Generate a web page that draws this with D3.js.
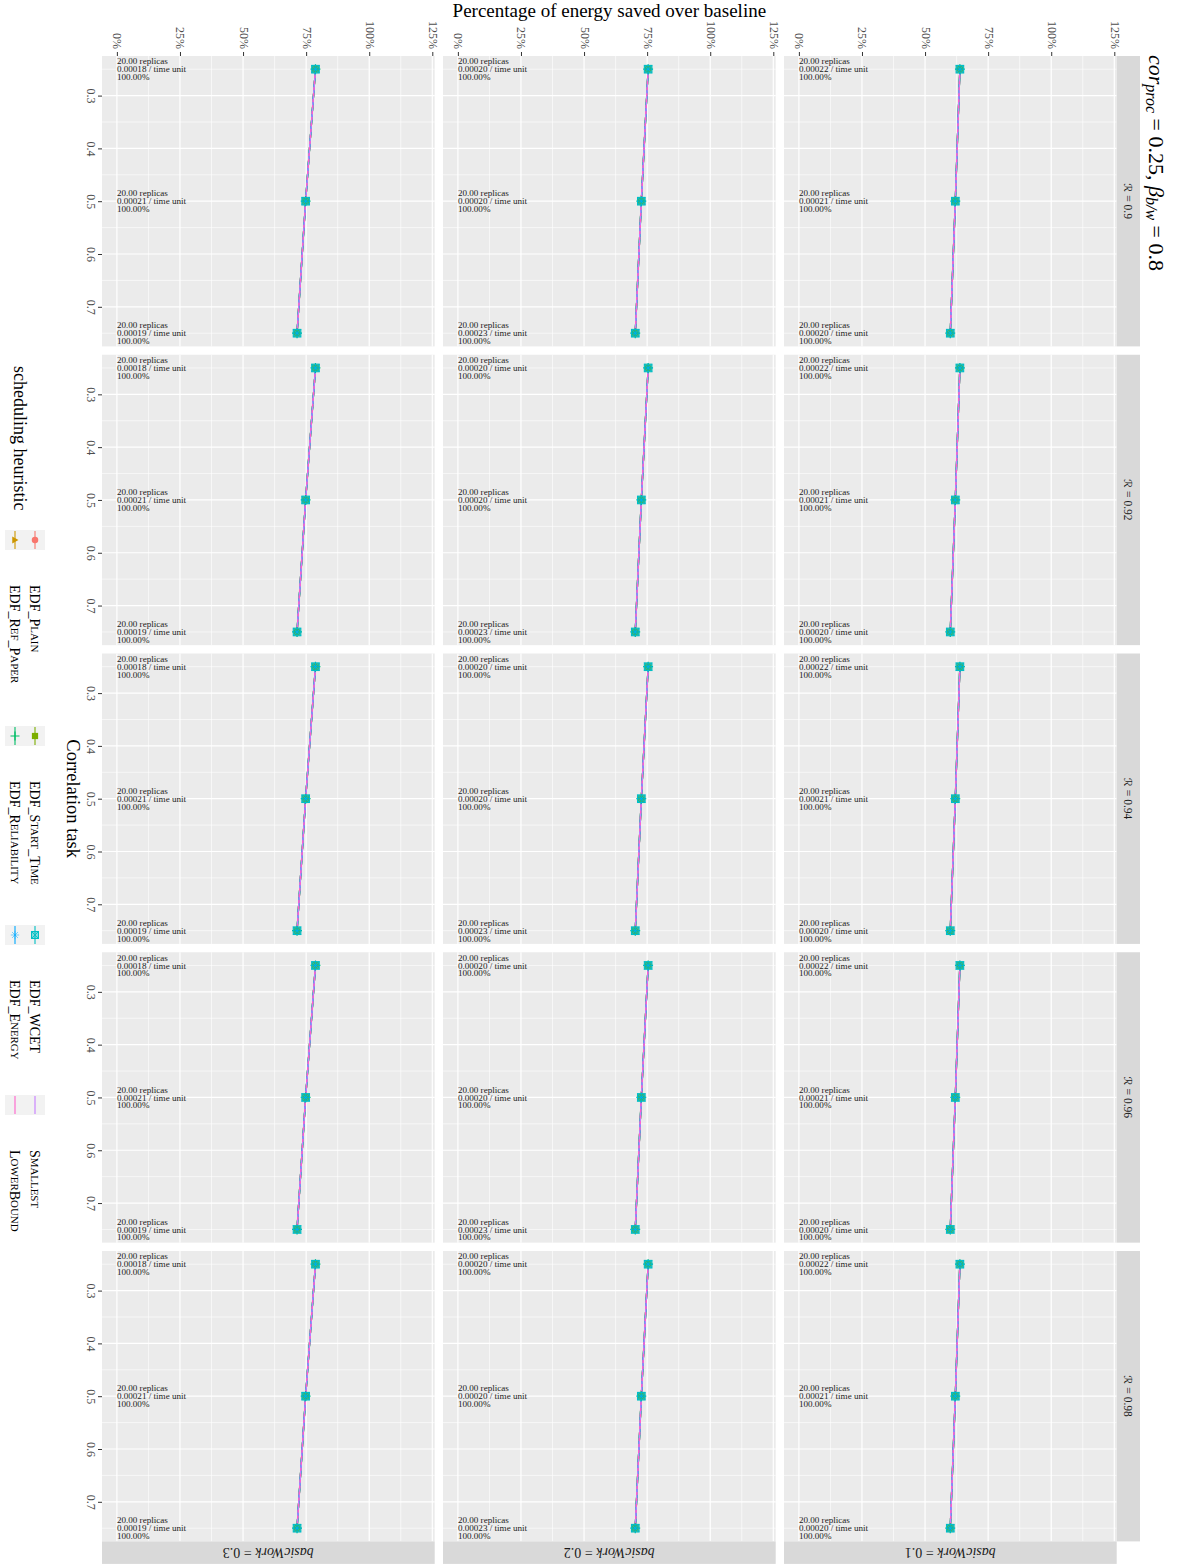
<!DOCTYPE html>
<html><head><meta charset="utf-8">
<script src="https://cdn.jsdelivr.net/npm/d3@7"></script>
<style>
body{margin:0;background:#fff;}
text{font-family:'Liberation Serif','DejaVu Serif',serif;}
</style>
</head><body>
<svg id="chart" width="1189" height="1567"></svg>
<script>
// ---------------- data ----------------
const correlation = [0.25, 0.5, 0.75];
const rLabels = ["0.9", "0.92", "0.94", "0.96", "0.98"];
const basicWorkLabels = ["0.3", "0.2", "0.1"];
const savingBW03 = [78.7, 74.8, 71.4];
const savingBW02 = [75.4, 72.7, 70.3];
const savingBW01 = [63.8, 62.0, 60.0];
const rateBW03 = ["0.00018", "0.00021", "0.00019"];
const rateBW02 = ["0.00020", "0.00020", "0.00023"];
const rateBW01 = ["0.00022", "0.00021", "0.00020"];
const replicaCounts = ["20.00", "20.00", "20.00"];
const successPct = ["100.00%", "100.00%", "100.00%"];
const heuristics = ["EDF_Plain", "EDF_Ref_Paper", "EDF_Start_Time", "EDF_Reliability", "EDF_WCET", "EDF_Energy", "Smallest", "LowerBound"];
const heurColors = ["#F8766D", "#CD9600", "#7CAE00", "#00BE67", "#00BFC4", "#00A9FF", "#C77CFF", "#FF61CC"];
const heurShapes = ["circle", "triangle", "square", "plus", "squarecross", "asterisk", null, null];
const pctTicks = [0, 25, 50, 75, 100, 125];
const pctMinor = [12.5, 37.5, 62.5, 87.5, 112.5];
const corTicks = [0.3, 0.4, 0.5, 0.6, 0.7];
const corMinor = [0.25, 0.35, 0.45, 0.55, 0.65, 0.75];

const savingsByCol = [savingBW03, savingBW02, savingBW01];
const ratesByCol = [rateBW03, rateBW02, rateBW01];

// ---------------- layout ----------------
const svg = d3.select("#chart");
const colX0 = 102, colW = 332.7, colGap = 8.3;
const rowY0 = 56, rowH = 290.4, rowGap = 8.35;
const panelBg = "#EBEBEB", stripBg = "#D9D9D9";

function shape(g, type, cx, cy, color, s) {
  s = s || 1;
  const h = 3.3 * s;
  if (type === "circle") {
    g.append("circle").attr("cx", cx).attr("cy", cy).attr("r", 3.1 * s).attr("fill", color);
  } else if (type === "triangle") {
    g.append("path").attr("d", `M${cx + h},${cy} L${cx - h * 0.8},${cy - h} L${cx - h * 0.8},${cy + h} Z`).attr("fill", color);
  } else if (type === "square") {
    g.append("rect").attr("x", cx - h * 0.9).attr("y", cy - h * 0.9).attr("width", h * 1.8).attr("height", h * 1.8).attr("fill", color);
  } else if (type === "plus") {
    g.append("path").attr("d", `M${cx - h * 1.3},${cy} H${cx + h * 1.3} M${cx},${cy - h * 1.3} V${cy + h * 1.3}`).attr("stroke", color).attr("stroke-width", 1.2).attr("fill", "none");
  } else if (type === "squarecross") {
    g.append("rect").attr("x", cx - h).attr("y", cy - h).attr("width", h * 2).attr("height", h * 2).attr("fill", color).attr("fill-opacity", 0.45).attr("stroke", color).attr("stroke-width", 1.1);
    g.append("path").attr("d", `M${cx - h},${cy - h} L${cx + h},${cy + h} M${cx - h},${cy + h} L${cx + h},${cy - h}`).attr("stroke", color).attr("stroke-width", 0.9);
  } else if (type === "asterisk") {
    const a = h * 1.2, b = h * 0.85;
    g.append("path").attr("d", `M${cx - a},${cy} H${cx + a} M${cx},${cy - a} V${cy + a} M${cx - b},${cy - b} L${cx + b},${cy + b} M${cx - b},${cy + b} L${cx + b},${cy - b}`).attr("stroke", color).attr("stroke-width", 1).attr("stroke-opacity", 0.5).attr("fill", "none");
  }
}

// manual small caps: lowercase letters become smaller capitals
function smallCaps(textSel, str, ratio) {
  let buf = "", small = null;
  const flush = () => {
    if (!buf) return;
    const t = textSel.append("tspan").text(buf);
    if (small) t.attr("font-size", (ratio * 100) + "%");
    buf = "";
  };
  for (const ch of str) {
    const isLower = ch !== ch.toUpperCase();
    if (small !== null && isLower !== small) flush();
    small = isLower;
    buf += isLower ? ch.toUpperCase() : ch;
  }
  flush();
}

basicWorkLabels.forEach((bw, c) => {
  const px = colX0 + c * (colW + colGap);
  const x = d3.scaleLinear().domain([-5.9, 125.95]).range([px, px + colW]);
  rLabels.forEach((rl, r) => {
    const py = rowY0 + r * (rowH + rowGap);
    const y = d3.scaleLinear().domain([0.225, 0.775]).range([py, py + rowH]);
    const g = svg.append("g");
    g.append("rect").attr("x", px).attr("y", py).attr("width", colW).attr("height", rowH).attr("fill", panelBg);
    // minor grid
    g.selectAll(null).data(pctMinor).enter().append("line")
      .attr("x1", d => x(d)).attr("x2", d => x(d)).attr("y1", py).attr("y2", py + rowH)
      .attr("stroke", "#fff").attr("stroke-width", 0.6);
    g.selectAll(null).data(corMinor).enter().append("line")
      .attr("y1", d => y(d)).attr("y2", d => y(d)).attr("x1", px).attr("x2", px + colW)
      .attr("stroke", "#fff").attr("stroke-width", 0.6);
    // major grid
    g.selectAll(null).data(pctTicks).enter().append("line")
      .attr("x1", d => x(d)).attr("x2", d => x(d)).attr("y1", py).attr("y2", py + rowH)
      .attr("stroke", "#fff").attr("stroke-width", 1.2);
    g.selectAll(null).data(corTicks).enter().append("line")
      .attr("y1", d => y(d)).attr("y2", d => y(d)).attr("x1", px).attr("x2", px + colW)
      .attr("stroke", "#fff").attr("stroke-width", 1.2);

    const vals = savingsByCol[c];
    const pts = correlation.map((cv, i) => ({ c: cv, v: vals[i] }));
    const line = d3.line().x(d => x(d.v)).y(d => y(d.c));
    heuristics.forEach((h, k) => {
      g.append("path").datum(pts).attr("d", line).attr("fill", "none")
        .attr("stroke", heurColors[k]).attr("stroke-width", k === 7 ? 1.5 : 1.4)
        .attr("stroke-dasharray", k === 7 ? "3,3" : null);
    });
    // annotations
    correlation.forEach((cv, i) => {
      const t = g.append("text").attr("x", x(0)).attr("y", y(cv)).attr("font-size", 9.1).attr("fill", "#1a1a1a");
      t.append("tspan").attr("x", x(0)).attr("dy", -4.8).text(replicaCounts[i] + " replicas");
      t.append("tspan").attr("x", x(0)).attr("dy", 7.9).text(ratesByCol[c][i] + " / time unit");
      t.append("tspan").attr("x", x(0)).attr("dy", 7.9).text(successPct[i]);
    });
    // points
    heuristics.forEach((h, k) => {
      if (!heurShapes[k]) return;
      pts.forEach(d => shape(g, heurShapes[k], x(d.v), y(d.c), heurColors[k], 1.15));
    });

    // top axis for each column (first row)
    if (r === 0) {
      const ax = svg.append("g").attr("transform", `translate(0,${py})`)
        .call(d3.axisTop(x).tickValues(pctTicks).tickFormat(d => d + "%").tickSize(4).tickPadding(3));
      ax.select(".domain").remove();
      ax.selectAll(".tick line").attr("stroke", "#333");
      ax.selectAll(".tick text").attr("y", null).attr("dy", null)
        .attr("transform", "translate(0,-7) rotate(90)").attr("text-anchor", "end")
        .attr("dominant-baseline", "central").attr("font-size", 12).attr("fill", "#4D4D4D")
        .attr("font-family", "'Liberation Serif','DejaVu Serif',serif");
    }
    // left axis for each row (first col)
    if (c === 0) {
      const ay = svg.append("g").attr("transform", `translate(${px},0)`)
        .call(d3.axisLeft(y).tickValues(corTicks).tickSize(4).tickFormat(d3.format(".1f")));
      ay.select(".domain").remove();
      ay.selectAll(".tick line").attr("stroke", "#333");
      ay.selectAll(".tick text").attr("x", null).attr("dy", null)
        .attr("transform", "translate(-11,0) rotate(90)").attr("text-anchor", "middle")
        .attr("dominant-baseline", "central").attr("font-size", 12).attr("fill", "#4D4D4D")
        .attr("font-family", "'Liberation Serif','DejaVu Serif',serif");
    }
    // right strips (last column)
    if (c === basicWorkLabels.length - 1) {
      svg.append("rect").attr("x", px + colW).attr("y", py).attr("width", 23.3).attr("height", rowH).attr("fill", stripBg);
      const st = svg.append("text").attr("transform", `translate(${px + colW + 11.6},${py + rowH / 2}) rotate(90)`)
        .attr("text-anchor", "middle").attr("dominant-baseline", "central").attr("font-size", 11.5).attr("fill", "#1A1A1A");
      st.append("tspan").attr("font-family", "'DejaVu Serif','DejaVu Sans',serif").attr("font-size", 11).text("\u211B");
      st.append("tspan").text(" = " + rl);
    }
    // bottom strips (last row)
    if (r === rLabels.length - 1) {
      svg.append("rect").attr("x", px).attr("y", py + rowH).attr("width", colW).attr("height", 22.5).attr("fill", stripBg);
      const bt = svg.append("text").attr("transform", `translate(${px + colW / 2},${py + rowH + 11.3}) rotate(180)`)
        .attr("text-anchor", "middle").attr("dominant-baseline", "central").attr("font-size", 14).attr("fill", "#1A1A1A");
      bt.append("tspan").attr("font-style", "italic").text("basicWork");
      bt.append("tspan").text(" = " + bw);
    }
  });
});

// axis titles
const plotCx = colX0 + (3 * colW + 2 * colGap) / 2;
const plotCy = rowY0 + (5 * rowH + 4 * rowGap) / 2;
svg.append("text").attr("x", plotCx).attr("y", 10).attr("text-anchor", "middle").attr("dominant-baseline", "central")
  .attr("font-size", 19).attr("fill", "#000").text("Percentage of energy saved over baseline");
svg.append("text").attr("transform", `translate(73,${plotCy}) rotate(90)`).attr("text-anchor", "middle")
  .attr("dominant-baseline", "central").attr("font-size", 18.5).attr("fill", "#000").text("Correlation task");

// main title (right side)
const tt = svg.append("text").attr("transform", `translate(1157,55) rotate(90)`).attr("dominant-baseline", "central")
  .attr("font-size", 22).attr("fill", "#000");
tt.append("tspan").attr("font-style", "italic").text("cor");
tt.append("tspan").attr("font-style", "italic").attr("font-size", 16).attr("dy", 5).text("proc");
tt.append("tspan").attr("dy", -5).text(" = 0.25, ");
tt.append("tspan").attr("font-style", "italic").text("\u03B2");
tt.append("tspan").attr("font-style", "italic").attr("font-size", 16).attr("dy", 5).text("b/w");
tt.append("tspan").attr("dy", -5).text(" = 0.8");

// legend
svg.append("text").attr("transform", `translate(20,366) rotate(90)`).attr("dominant-baseline", "central")
  .attr("font-size", 18).attr("fill", "#000").text("scheduling heuristic");
const keyCenters = [540, 736, 935, 1105];
const legendColX = [35, 15];
const labelOffset = 45;
keyCenters.forEach((ky, j) => {
  svg.append("rect").attr("x", 5).attr("y", ky - 10).attr("width", 40).attr("height", 20).attr("fill", "#F2F2F2");
  [0, 1].forEach(rr => {
    const k = j * 2 + rr;
    const lx = legendColX[rr];
    svg.append("line").attr("x1", lx).attr("x2", lx).attr("y1", ky - 9).attr("y2", ky + 9)
      .attr("stroke", heurColors[k]).attr("stroke-width", 1.1);
    if (heurShapes[k]) shape(svg, heurShapes[k], lx, ky, heurColors[k], 1.05);
    const lt = svg.append("text").attr("transform", `translate(${lx},${ky + labelOffset}) rotate(90)`)
      .attr("dominant-baseline", "central").attr("font-size", 14).attr("fill", "#000");
    smallCaps(lt, heuristics[k], 0.78);
  });
});
</script>
</body></html>
